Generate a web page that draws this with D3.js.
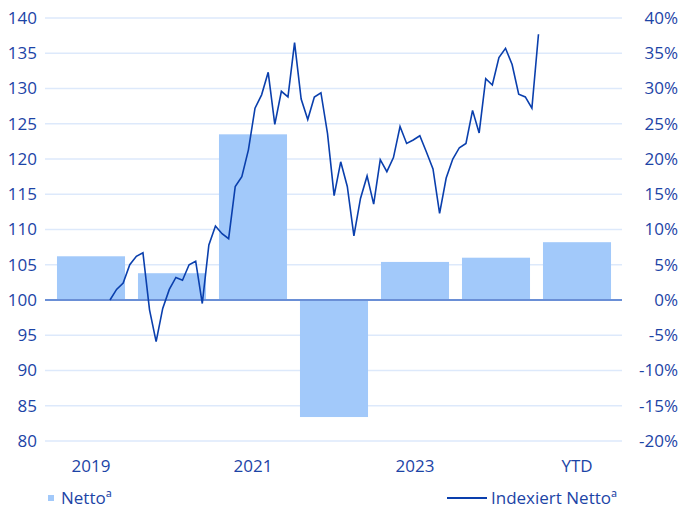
<!DOCTYPE html>
<html>
<head>
<meta charset="utf-8">
<script src="https://cdn.jsdelivr.net/npm/d3@7"></script>
<style>
  body { margin: 0; background: #fff; }
  text { font-family: "Open Sans", sans-serif; fill: #1c44a6; }
</style>
</head>
<body>
<svg id="chart"></svg>
<script>
const years = ["2019", "2020", "2021", "2022", "2023", "2024", "YTD"];
const yearLabels = ["2019", "", "2021", "", "2023", "", "YTD"];
const netto = [6.2, 3.8, 23.5, -16.6, 5.4, 6.0, 8.2];

// monthly index, starting at 100
const indexed = [
  100.0, 101.5, 102.4, 105.0, 106.2, 106.7, 98.6, 94.1, 98.8, 101.5,
  103.2, 102.8, 105.0, 105.5, 99.5, 107.8, 110.5, 109.4, 108.7, 116.1,
  117.5, 121.3, 127.2, 129.1, 132.3, 124.9, 129.6, 128.8, 136.5, 128.5,
  125.6, 128.8, 129.4, 123.6, 114.8, 119.6, 116.1, 109.1, 114.4, 117.6,
  113.6, 119.9, 118.2, 120.2, 124.6, 122.2, 122.7, 123.3, 121.0, 118.6,
  112.3, 117.3, 120.0, 121.6, 122.2, 126.9, 123.7, 131.4, 130.5, 134.4,
  135.7, 133.4, 129.2, 128.8, 127.2, 137.7
];

const leftTicks = [80, 85, 90, 95, 100, 105, 110, 115, 120, 125, 130, 135, 140];
const rightTicks = [-20, -15, -10, -5, 0, 5, 10, 15, 20, 25, 30, 35, 40];

const width = 681;
const height = 512;
const margin = { top: 18, right: 56, bottom: 71, left: 45 };

const svg = d3.select("#chart")
  .attr("width", width)
  .attr("height", height);

const plotRight = width - margin.right;
const plotBottom = height - margin.bottom;

const yLeft = d3.scaleLinear()
  .domain([80, 140])
  .range([plotBottom, margin.top]);

const yRight = d3.scaleLinear()
  .domain([-20, 40])
  .range([plotBottom, margin.top]);

const xBand = d3.scaleBand()
  .domain(years)
  .range([margin.left + 5.5, plotRight - 7.5])
  .paddingInner(0.16)
  .paddingOuter(0.08);

// line runs on its own monthly index scale
const xLine = d3.scaleLinear()
  .domain([0, indexed.length - 1])
  .range([xBand("2019") + 53, xBand("YTD") - 4.5]);

// gridlines
svg.append("g")
  .selectAll("line")
  .data(leftTicks.filter(d => d !== 100))
  .join("line")
  .attr("x1", margin.left)
  .attr("x2", plotRight - 3)
  .attr("y1", d => yLeft(d))
  .attr("y2", d => yLeft(d))
  .attr("stroke", "#dde9fb")
  .attr("stroke-width", 1.5);

// left axis labels
svg.append("g")
  .selectAll("text")
  .data(leftTicks)
  .join("text")
  .attr("x", margin.left - 8)
  .attr("y", d => yLeft(d))
  .attr("dy", "0.35em")
  .attr("text-anchor", "end")
  .style("font-size", "17px")
  .text(d => d);

// right axis labels
svg.append("g")
  .selectAll("text")
  .data(rightTicks)
  .join("text")
  .attr("x", width - 3)
  .attr("y", d => yRight(d))
  .attr("dy", "0.35em")
  .attr("text-anchor", "end")
  .style("font-size", "17px")
  .text(d => d + "%");

// bars
svg.append("g")
  .selectAll("rect")
  .data(years)
  .join("rect")
  .attr("x", d => xBand(d))
  .attr("width", xBand.bandwidth())
  .attr("y", (d, i) => yRight(Math.max(0, netto[i])))
  .attr("height", (d, i) => Math.abs(yRight(netto[i]) - yRight(0)))
  .attr("fill", "#a2c9fa");

// zero line
svg.append("line")
  .attr("x1", margin.left)
  .attr("x2", plotRight - 3)
  .attr("y1", yLeft(100))
  .attr("y2", yLeft(100))
  .attr("stroke", "#6a8fd6")
  .attr("stroke-width", 2);

// x labels
svg.append("g")
  .selectAll("text")
  .data(years)
  .join("text")
  .attr("x", d => xBand(d) + xBand.bandwidth() / 2)
  .attr("y", plotBottom + 25)
  .attr("dy", "0.35em")
  .attr("text-anchor", "middle")
  .style("font-size", "17px")
  .text((d, i) => yearLabels[i]);

// index line
const line = d3.line()
  .x((d, i) => xLine(i))
  .y(d => yLeft(d));

svg.append("path")
  .datum(indexed)
  .attr("d", line)
  .attr("fill", "none")
  .attr("stroke", "#0a3fad")
  .attr("stroke-width", 1.6)
  .attr("stroke-linejoin", "miter");

// legend
const legendY = 498;
svg.append("rect")
  .attr("x", 48)
  .attr("y", legendY - 3)
  .attr("width", 6)
  .attr("height", 6)
  .attr("fill", "#a2c9fa");

svg.append("text")
  .attr("x", 61)
  .attr("y", legendY)
  .attr("dy", "0.35em")
  .style("font-size", "17px")
  .text("Nettoª");

svg.append("line")
  .attr("x1", 447)
  .attr("x2", 487)
  .attr("y1", legendY)
  .attr("y2", legendY)
  .attr("stroke", "#0a3fad")
  .attr("stroke-width", 2);

svg.append("text")
  .attr("x", 491)
  .attr("y", legendY)
  .attr("dy", "0.35em")
  .style("font-size", "17px")
  .text("Indexiert Nettoª");
</script>
</body>
</html>
